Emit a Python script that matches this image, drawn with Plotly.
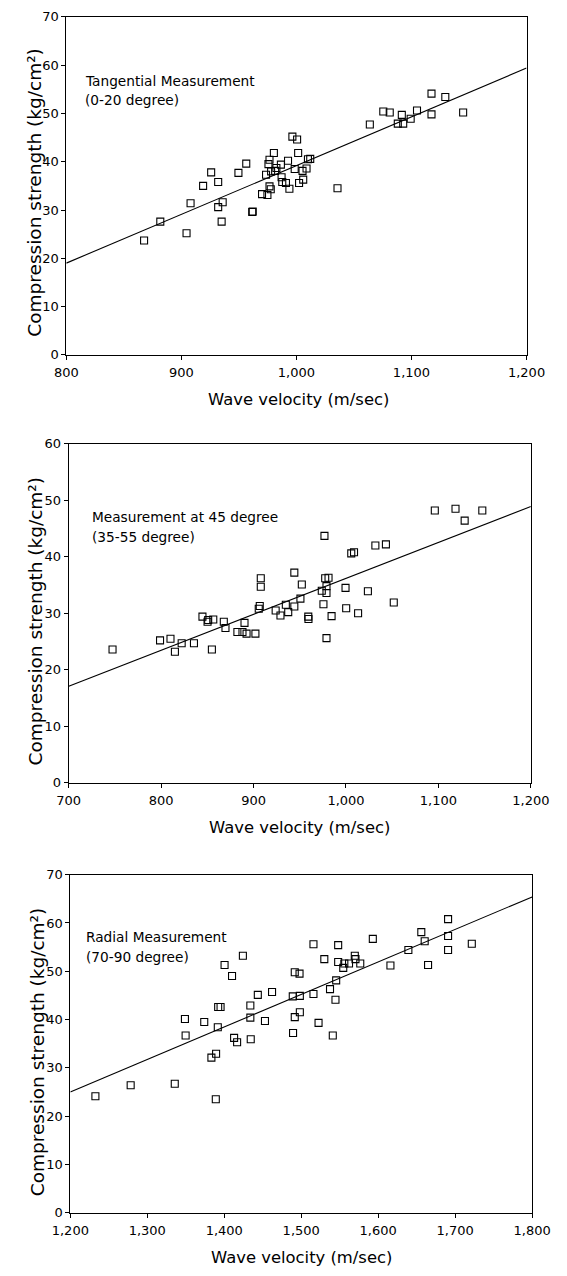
import plotly.graph_objects as go

# ---------------- data ----------------
# Panel 1: Tangential measurement (0-20 degree)
tan_velocity = [867.6, 881.7, 904.5, 908.0, 918.9, 925.9, 932.0, 932.0, 935.9, 935.0,
                949.6, 956.4, 961.6, 962.0, 970.1, 973.6, 974.8, 975.7, 976.6, 976.6,
                977.7, 978.0, 981.5, 980.4, 982.6, 986.5, 987.1, 987.7, 990.9, 992.7,
                993.9, 996.5, 998.5, 1000.6, 1001.5, 1002.3, 1005.3, 1005.9, 1008.8, 1010.0,
                1012.0, 1035.7, 1063.8, 1075.5, 1081.1, 1088.1, 1091.6, 1092.8, 1099.3, 1104.8,
                1117.4, 1117.4, 1129.4, 1144.9]
tan_strength = [23.7, 27.6, 25.2, 31.4, 35.0, 37.8, 35.8, 30.6, 31.6, 27.6,
                37.7, 39.6, 29.6, 29.7, 33.3, 37.3, 33.1, 39.5, 40.4, 34.9,
                34.3, 38.0, 38.1, 41.8, 38.7, 39.4, 36.8, 35.8, 35.6, 40.2,
                34.4, 45.2, 38.5, 44.6, 41.8, 35.6, 38.1, 36.3, 38.6, 40.5,
                40.6, 34.5, 47.7, 50.4, 50.2, 47.9, 49.7, 47.9, 48.9, 50.6,
                54.1, 49.8, 53.4, 50.2]
tan_fit_x = [800, 1200]
tan_fit_y = [19.0, 59.4]

# Panel 2: Measurement at 45 degree (35-55 degree)
d45_velocity = [747.4, 798.8, 810.1, 814.9, 822.2, 835.5, 844.7, 850.2, 850.9, 856.4,
                854.9, 867.8, 869.6, 882.5, 888.0, 890.2, 892.4, 902.0, 905.6, 906.7,
                907.8, 907.8, 923.9, 929.1, 934.9, 937.5, 944.1, 944.1, 950.7, 952.2,
                959.2, 959.4, 973.8, 975.6, 976.7, 977.5, 978.9, 978.9, 978.9, 981.1,
                984.4, 999.5, 1000.2, 1005.7, 1008.7, 1013.1, 1023.7, 1031.8, 1043.2, 1051.7,
                1096.1, 1118.5, 1128.4, 1147.5]
d45_strength = [23.6, 25.2, 25.5, 23.2, 24.7, 24.7, 29.4, 28.5, 28.8, 28.9,
                23.6, 28.5, 27.4, 26.7, 26.7, 28.3, 26.4, 26.4, 30.8, 31.3,
                34.7, 36.2, 30.5, 29.6, 31.5, 30.2, 37.2, 31.2, 32.6, 35.1,
                29.4, 29.0, 34.0, 31.6, 43.7, 36.2, 34.8, 33.6, 25.6, 36.3,
                29.5, 34.5, 30.9, 40.6, 40.8, 30.0, 33.9, 42.0, 42.2, 31.9,
                48.2, 48.5, 46.4, 48.2]
d45_fit_x = [700, 1200]
d45_fit_y = [17.1, 48.9]

# Panel 3: Radial measurement (70-90 degree)
rad_velocity = [1232.6, 1278.4, 1335.7, 1348.9, 1349.8, 1374.0, 1383.3, 1389.4, 1389.0, 1391.6,
                1392.1, 1395.2, 1400.4, 1410.1, 1412.8, 1416.7, 1424.2, 1433.9, 1433.9, 1434.4,
                1443.6, 1452.9, 1462.1, 1489.0, 1489.4, 1491.6, 1491.6, 1497.8, 1498.2, 1498.2,
                1515.9, 1515.9, 1522.5, 1530.0, 1537.4, 1541.0, 1544.5, 1545.4, 1548.0, 1548.0,
                1554.6, 1556.0, 1562.1, 1569.6, 1570.5, 1576.7, 1593.0, 1615.9, 1639.2, 1656.0,
                1660.4, 1664.8, 1690.8, 1690.8, 1690.8, 1721.6]
rad_strength = [24.1, 26.4, 26.7, 40.1, 36.7, 39.5, 32.1, 32.9, 23.5, 38.4,
                42.6, 42.6, 51.3, 49.0, 36.2, 35.3, 53.2, 42.9, 40.4, 35.9,
                45.1, 39.7, 45.7, 44.8, 37.2, 49.8, 40.5, 49.5, 44.9, 41.5,
                55.6, 45.3, 39.3, 52.5, 46.3, 36.7, 44.1, 48.1, 55.4, 51.9,
                50.7, 51.6, 51.6, 53.2, 52.5, 51.6, 56.7, 51.2, 54.4, 58.1,
                56.2, 51.3, 60.8, 57.3, 54.4, 55.7]
rad_fit_x = [1200, 1800]
rad_fit_y = [25.0, 65.4]

x_ranges = [[800, 1200], [700, 1200], [1200, 1800]]
y_ranges = [[0, 70], [0, 60], [0, 70]]
x_ticks = [[800, 900, 1000, 1100, 1200],
           [700, 800, 900, 1000, 1100, 1200],
           [1200, 1300, 1400, 1500, 1600, 1700, 1800]]
label_line1 = ["Tangential Measurement", "Measurement at 45 degree", "Radial Measurement"]
label_line2 = ["(0-20 degree)", "(35-55 degree)", "(70-90 degree)"]
x_title = "Wave velocity (m/sec)"
y_title = "Compression strength (kg/cm\u00b2)"

# ---------------- layout geometry (pixels of the 567x1276 page) ----------------
W, H = 567, 1276
boxes = [  # left, right, top, bottom
    (50.7, 544.0, 10.0, 352.0),
    (53.3, 548.6, 442.0, 785.0),
    (55.0, 550.0, 878.0, 1220.0),
]
label_pos = [(69, 75, 94), (76, 516, 536), (70, 941, 961)]
ytitle_pos = [(17, 188), (18, 622), (20, 1058)]
xtitle_pos = [(300, 397), (301, 830), (303, 1265)]

FONT = "DejaVu Sans"

def px(x):
    return x / W

def py(y):
    return 1 - y / H

fig = go.Figure()

series = [
    (tan_velocity, tan_strength, tan_fit_x, tan_fit_y),
    (d45_velocity, d45_strength, d45_fit_x, d45_fit_y),
    (rad_velocity, rad_strength, rad_fit_x, rad_fit_y),
]

annotations = []
for i, (vx, vy, fx, fy) in enumerate(series):
    n = "" if i == 0 else str(i + 1)
    fig.add_trace(go.Scatter(
        x=vx, y=vy, mode="markers", xaxis="x" + n, yaxis="y" + n,
        marker=dict(symbol="square-open", size=7, color="black", line=dict(width=1.1, color="black")),
        showlegend=False, hoverinfo="x+y"))
    fig.add_trace(go.Scatter(
        x=fx, y=fy, mode="lines", xaxis="x" + n, yaxis="y" + n,
        line=dict(color="black", width=1.1), showlegend=False, hoverinfo="skip"))

    l, r, t, b = boxes[i]
    common = dict(showgrid=False, zeroline=False, showline=True, linecolor="black",
                  linewidth=1, mirror=True, ticks="outside", ticklen=4, tickcolor="black",
                  tickfont=dict(family=FONT, size=13, color="black"))
    fig.layout["xaxis" + n] = dict(
        domain=[px(l), px(r)], range=x_ranges[i], anchor="y" + n,
        tickmode="array", tickvals=x_ticks[i], ticklabelstandoff=2,
        ticktext=[f"{v:,}" for v in x_ticks[i]], **common)
    fig.layout["yaxis" + n] = dict(
        domain=[py(b), py(t)], range=y_ranges[i], anchor="x" + n,
        dtick=10, tick0=0, **common)

    lx, ly1, ly2 = label_pos[i]
    for txt, yy in ((label_line1[i], ly1), (label_line2[i], ly2)):
        annotations.append(dict(
            text=txt, x=px(lx), y=py(yy), xref="paper", yref="paper",
            xanchor="left", yanchor="middle", showarrow=False,
            font=dict(family=FONT, size=13.7, color="black")))
    tx, ty = ytitle_pos[i]
    annotations.append(dict(
        text=y_title, x=px(tx), y=py(ty), xref="paper", yref="paper",
        xanchor="center", yanchor="middle", textangle=-90, showarrow=False,
        font=dict(family=FONT, size=18.5, color="black")))
    tx, ty = xtitle_pos[i]
    annotations.append(dict(
        text=x_title, x=px(tx), y=py(ty), xref="paper", yref="paper",
        xanchor="center", yanchor="middle", showarrow=False,
        font=dict(family=FONT, size=16.4, color="black")))

fig.update_layout(
    width=W, height=H, margin=dict(l=0, r=0, t=0, b=0),
    paper_bgcolor="white", plot_bgcolor="white",
    annotations=annotations,
    font=dict(family=FONT, color="black"),
)

fig.write_html(
    "out.html",
    config={"displayModeBar": False},
    post_script="document.body.style.margin='0';document.body.style.overflow='hidden';",
)
